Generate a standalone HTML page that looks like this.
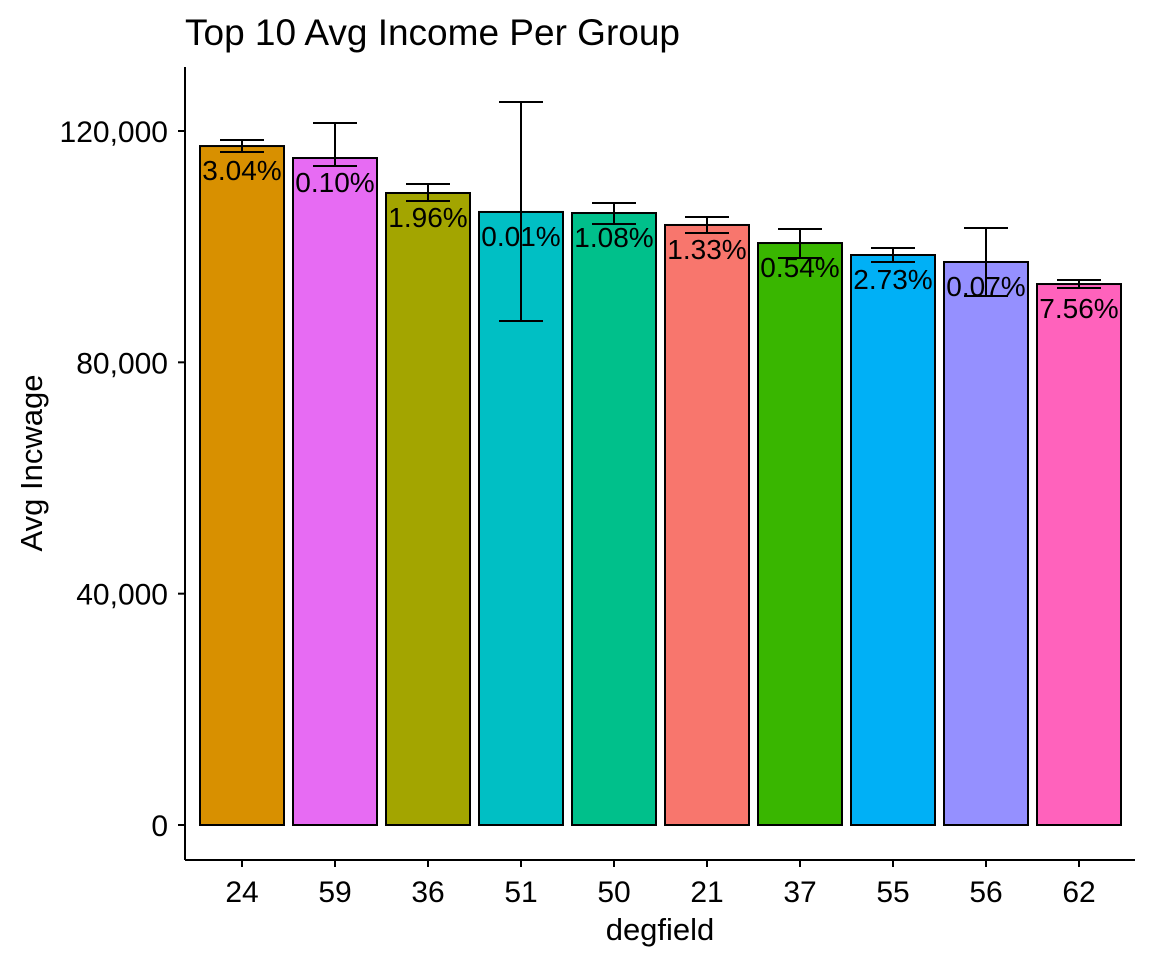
<!DOCTYPE html>
<html><head><meta charset="utf-8"><style>
body{margin:0;background:#fff;}
svg{display:block;font-family:"Liberation Sans",Arial,sans-serif;}
</style></head><body>
<svg id="chart" width="1152" height="960">
<text x="185" y="45" font-size="37" fill="#000">Top 10 Avg Income Per Group</text>
<g id="plot"></g>
<line x1="185" y1="67" x2="185" y2="860" stroke="#000" stroke-width="2"/>
<line x1="185" y1="860" x2="1135" y2="860" stroke="#000" stroke-width="2"/>
<text x="660" y="940" font-size="31" text-anchor="middle">degfield</text>
<text transform="translate(42,463) rotate(-90)" font-size="31" text-anchor="middle">Avg Incwage</text>
</svg>
<script>
const categories=["24","59","36","51","50","21","37","55","56","62"];
const values=[117400,115330,109280,106000,105820,103750,100630,98560,97350,93540];
const errHigh=[118440,121380,110840,125020,107550,105130,103050,99770,103220,94230];
const errLow=[116370,113950,107900,87150,103920,102360,98040,97350,91470,92850];
const pctLabels=["3.04%","0.10%","1.96%","0.01%","1.08%","1.33%","0.54%","2.73%","0.07%","7.56%"];
const colors=["#D89000","#E76BF3","#A3A500","#00BFC4","#00C08B","#F8766D","#39B600","#00B0F6","#9590FF","#FF62BC"];
const yTicks=[0,40000,80000,120000];
const yTickLabels=["0","40,000","80,000","120,000"];
const NS="http://www.w3.org/2000/svg";
const g=document.getElementById('plot');
const y=v=>825-v*694/120000;
const x=i=>242+i*93.0;
const bw=84;
function el(t,a){const e=document.createElementNS(NS,t);for(const k in a)e.setAttribute(k,a[k]);g.appendChild(e);return e;}
yTicks.forEach((t,i)=>{
 const l=el('line',{x1:178,x2:185,y1:y(t),y2:y(t),stroke:'#000','stroke-width':2});
 
 
 const tx=el('text',{x:168,y:y(t)+11,'font-size':30,'text-anchor':'end'});
 tx.textContent=yTickLabels[i];
 
 
});
categories.forEach((c,i)=>{
 const cx=x(i);
 const r=el('rect',{x:cx-bw/2,y:y(values[i]),width:bw,height:y(0)-y(values[i]),fill:colors[i],stroke:'#000','stroke-width':2});
 
 
 const e=el('path',{d:`M${cx-22},${y(errHigh[i])}H${cx+22}M${cx},${y(errHigh[i])}V${y(errLow[i])}M${cx-22},${y(errLow[i])}H${cx+22}`,stroke:'#000','stroke-width':2,fill:'none'});
 
 
 const lb=el('text',{x:cx,y:y(values[i])+34,'font-size':28,'text-anchor':'middle'});
 lb.textContent=pctLabels[i];
 
 
 const tk=el('line',{x1:cx,x2:cx,y1:860,y2:867,stroke:'#000','stroke-width':2});
 
 
 const xl=el('text',{x:cx,y:902,'font-size':30,'text-anchor':'middle'});
 xl.textContent=c;
 
 
});
</script>
</body></html>
